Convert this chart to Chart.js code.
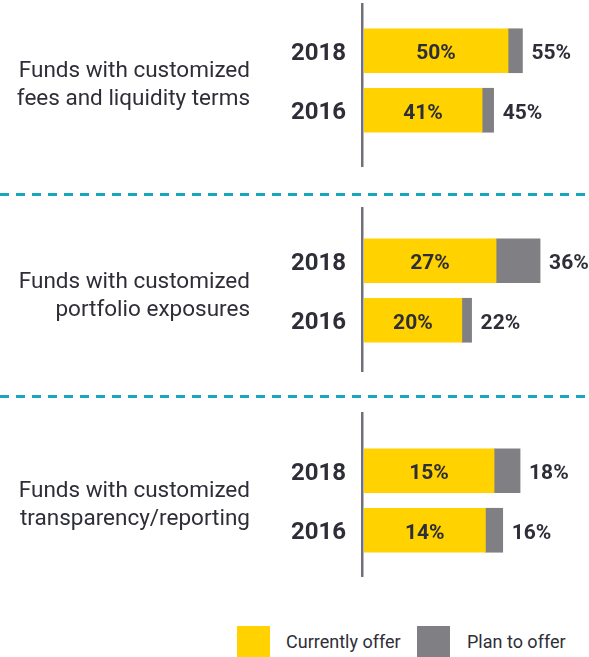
<!DOCTYPE html>
<html>
<head>
<meta charset="utf-8">
<script src="https://cdn.jsdelivr.net/npm/chart.js@4.4.1/dist/chart.umd.min.js"></script>
<style>
  body { margin: 0; background: #fff; font-family: Roboto, "Noto Sans", sans-serif; color: #2e2e38; }
  #page { position: relative; width: 589px; height: 657px; overflow: hidden; }
  .group { position: absolute; left: 0; width: 589px; }
  .group-label {
    position: absolute; left: 0; width: 250px; text-align: right;
    font-size: 22.5px; line-height: 28px; color: #2e2e38;
  }
  .divider {
    position: absolute; left: 0; width: 589px; height: 3px;
    background: repeating-linear-gradient(90deg, #18a6bf 0 9px, transparent 9px 16px);
  }
  .legend { position: absolute; top: 626px; left: 0; width: 589px; height: 31px; }
  .legend .box { position: absolute; top: 0; width: 33px; height: 31px; }
  .legend .txt { position: absolute; top: 4px; font-size: 18px; line-height: 24px; color: #2e2e38; }
</style>
</head>
<body>
<div id="page"></div>
<script>
const groupLabels = [
  ['Funds with customized', 'fees and liquidity terms'],
  ['Funds with customized', 'portfolio exposures'],
  ['Funds with customized', 'transparency/reporting']
];
const years = ['2018', '2016'];
const currentlyOffer = [[50, 41], [27, 20], [15, 14]];
const planToOffer = [[5, 4], [9, 2], [3, 2]];
const seriesNames = ['Currently offer', 'Plan to offer'];
const seriesColors = ['#ffd200', '#808084'];
// each panel in the source uses its own horizontal scale
const scaleMax = [78.1, 46, 25.95];

// panel placement: top of axis line, height, padding above/below bars
const panels = [
  { top: 3, height: 164, padTop: 18, padBottom: 27, labelTop: 52 },
  { top: 207, height: 165, padTop: 24, padBottom: 22, labelTop: 59 },
  { top: 412, height: 165, padTop: 29, padBottom: 17, labelTop: 63 }
];
const dividers = [193, 395];

const page = document.getElementById('page');

dividers.forEach(y => {
  const d = document.createElement('div');
  d.className = 'divider';
  d.style.top = y + 'px';
  page.appendChild(d);
});

// draws the vertical axis line over the full panel height
const axisLine = {
  id: 'axisLine',
  beforeDatasetsDraw(chart) {
    const { ctx, chartArea } = chart;
    ctx.save();
    ctx.strokeStyle = '#707078';
    ctx.lineWidth = 2.5;
    ctx.beginPath();
    ctx.moveTo(chartArea.left - 1.75, 0);
    ctx.lineTo(chartArea.left - 1.75, chart.height);
    ctx.stroke();
    ctx.restore();
  }
};

// value inside the yellow bar, total to the right of the stack
const barLabels = {
  id: 'barLabels',
  afterDatasetsDraw(chart) {
    const { ctx } = chart;
    const cur = chart.getDatasetMeta(0).data;
    const plan = chart.getDatasetMeta(1).data;
    const curVals = chart.data.datasets[0].data;
    const planVals = chart.data.datasets[1].data;
    ctx.save();
    ctx.font = 'bold 21px Roboto, "Noto Sans", sans-serif';
    ctx.fillStyle = '#2e2e38';
    ctx.textBaseline = 'middle';
    cur.forEach((bar, i) => {
      ctx.textAlign = 'center';
      ctx.fillText(curVals[i] + '%', (bar.x + bar.base) / 2, bar.y + 3);
      ctx.textAlign = 'left';
      ctx.fillText((curVals[i] + planVals[i]) + '%', plan[i].x + 9, bar.y + 3);
    });
    ctx.restore();
  }
};

panels.forEach((p, g) => {
  const wrap = document.createElement('div');
  wrap.className = 'group';
  wrap.style.top = p.top + 'px';
  wrap.style.height = p.height + 'px';

  const lbl = document.createElement('div');
  lbl.className = 'group-label';
  lbl.style.top = p.labelTop + 'px';
  lbl.innerHTML = groupLabels[g].join('<br>');
  wrap.appendChild(lbl);

  const canvas = document.createElement('canvas');
  wrap.appendChild(canvas);
  page.appendChild(wrap);

  new Chart(canvas, {
    type: 'bar',
    data: {
      labels: years,
      datasets: [
        { label: seriesNames[0], data: currentlyOffer[g], backgroundColor: seriesColors[0] },
        { label: seriesNames[1], data: planToOffer[g], backgroundColor: seriesColors[1] }
      ]
    },
    options: {
      indexAxis: 'y',
      responsive: true,
      maintainAspectRatio: false,
      animation: false,
      layout: { padding: { top: p.padTop, bottom: p.padBottom, left: 0, right: 0 } },
      datasets: { bar: { barThickness: 44, borderWidth: 0 } },
      plugins: { legend: { display: false }, tooltip: { enabled: false } },
      scales: {
        x: {
          stacked: true,
          min: 0,
          max: scaleMax[g],
          display: false
        },
        y: {
          stacked: true,
          afterFit(scale) {
            scale.width = 364;
            scale.paddingTop = 0;
            scale.paddingBottom = 0;
          },
          grid: { display: false, drawTicks: false },
          border: { display: false },
          ticks: {
            padding: 18,
            labelOffset: 3,
            color: '#2e2e38',
            font: { family: 'Roboto, "Noto Sans", sans-serif', size: 24, weight: 'bold' }
          }
        }
      }
    },
    plugins: [axisLine, barLabels]
  });
});

// legend
const legend = document.createElement('div');
legend.className = 'legend';
const legendPos = [{ box: 237, txt: 286 }, { box: 417, txt: 467 }];
seriesNames.forEach((name, i) => {
  const b = document.createElement('div');
  b.className = 'box';
  b.style.left = legendPos[i].box + 'px';
  b.style.background = seriesColors[i];
  const t = document.createElement('div');
  t.className = 'txt';
  t.style.left = legendPos[i].txt + 'px';
  t.textContent = name;
  legend.appendChild(b);
  legend.appendChild(t);
});
page.appendChild(legend);
</script>
</body>
</html>
